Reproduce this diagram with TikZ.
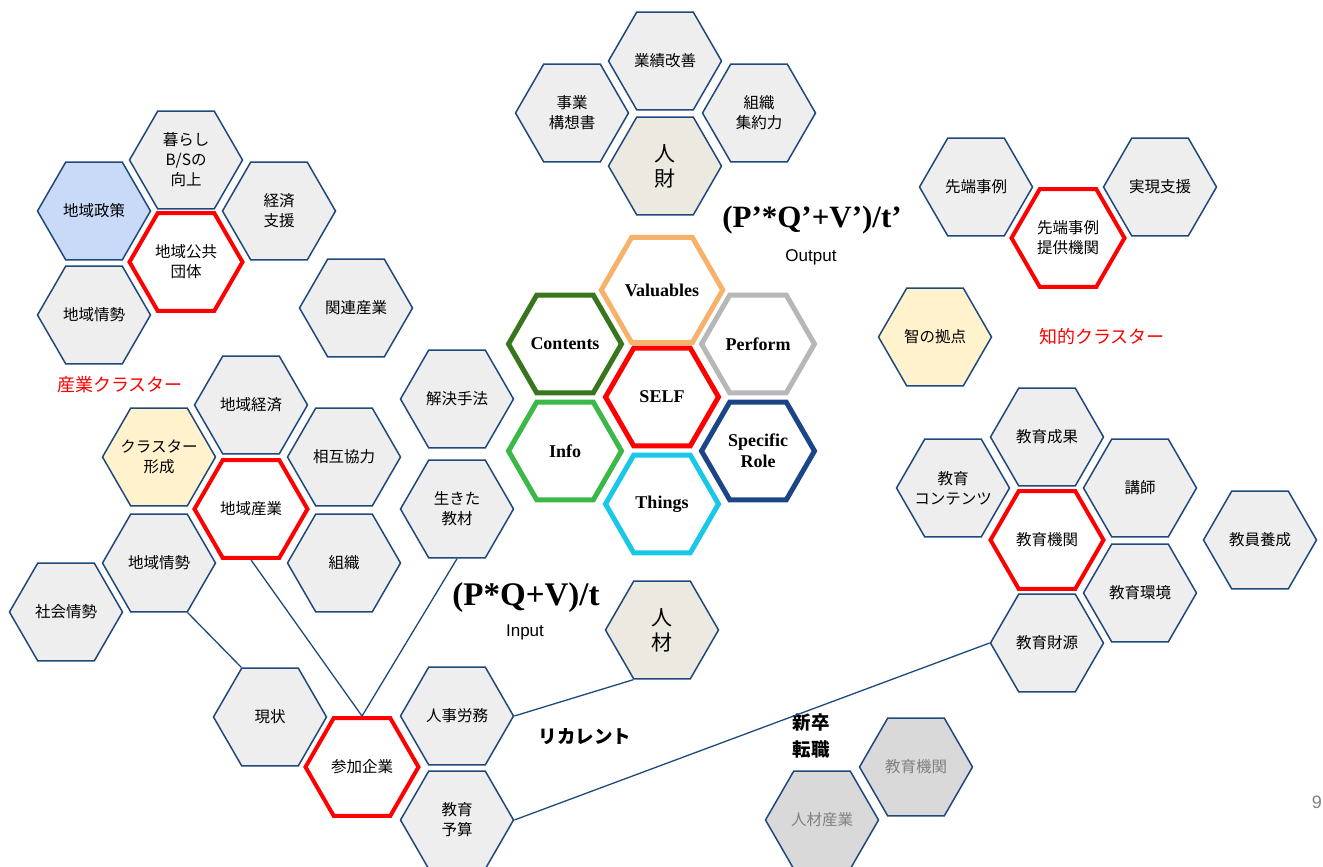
\documentclass[tikz,border=0pt]{standalone}
\usepackage{fontspec}
\setmainfont{Liberation Serif}
\newfontfamily\jpfont{Noto Sans CJK JP}
\newfontfamily\arialfont{Liberation Sans}
\usepackage{tikz}
\usetikzlibrary{shapes.geometric,positioning}

\definecolor{hexline}{RGB}{31,73,125}
\definecolor{hexfill}{RGB}{238,238,238}
\definecolor{policyblue}{RGB}{201,218,248}
\definecolor{paleyellow}{RGB}{255,242,204}
\definecolor{jinfill}{RGB}{236,234,224}
\definecolor{dimfill}{RGB}{217,217,217}
\definecolor{valorange}{RGB}{246,178,107}
\definecolor{contgreen}{RGB}{56,118,29}
\definecolor{perfgray}{RGB}{183,183,183}
\definecolor{infogreen}{RGB}{60,184,72}
\definecolor{roleblue}{RGB}{28,69,135}
\definecolor{thingcyan}{RGB}{24,200,230}

% wide label lines that must not grow the hexagon
\newcommand{\hexrow}[1]{\makebox[0pt]{#1}}

\tikzset{
  hex/.style={regular polygon, regular polygon sides=6,
    minimum size=113pt, inner sep=0pt, draw=hexline, line width=1.5pt,
    fill=hexfill, align=center, font=\jpfont\fontsize{15.5}{20}\selectfont},
  redhex/.style={hex, fill=white, draw=red, line width=4pt},
  dimhex/.style={hex, fill=dimfill, text=gray},
  jinhex/.style={hex, fill=jinfill, font=\jpfont\fontsize{21}{25}\selectfont},
  keyhex/.style={hex, fill=white, line width=5pt, draw=#1,
    font=\bfseries\fontsize{18}{21}\selectfont},
  cluster/.style={text=red, font=\jpfont\fontsize{18}{22}\selectfont},
  boldjp/.style={align=left, font=\jpfont\bfseries\fontsize{18.5}{27}\selectfont},
  conn/.style={draw=hexline, line width=1.3pt}
}

\begin{document}
\begin{tikzpicture}[x=1pt,y=-1pt]
\useasboundingbox (0,0) rectangle (1323,867);

% 地域公共団体
\node[hex] (kurashi) at (186,160) {暮らし\\B/Sの\\向上};
\node[hex, fill=policyblue] (seisaku) at (94,211) {地域政策};
\node[redhex] (koukyou) at (186,262) {地域公共\\団体};
\node[hex] (shien) at (279,211) {経済\\支援};
\node[hex] (jousei) at (94,315) {地域情勢};
\node[hex] (kanren) at (356,308) {関連産業};

% 産業クラスター
\node[cluster] (sangyoucl) at (120,385) {産業クラスター};
\node[hex] (keizai) at (251,405) {地域経済};
\node[hex, fill=paleyellow] (keisei) at (159,457) {\hexrow{クラスター}\\\hexrow{形成}};
\node[redhex] (chiiki) at (251,509) {地域産業};
\node[hex] (kyouryoku) at (344,457) {相互協力};
\node[hex] (jousei2) at (159,563) {地域情勢};
\node[hex] (soshiki) at (344,563) {組織};
\node[hex] (shakai) at (66,612) {社会情勢};
\node[hex] (kaiketsu) at (457,399) {解決手法};
\node[hex] (kyouzai) at (457,509) {生きた\\教材};

% 参加企業
\node[hex] (genjou) at (270,717) {現状};
\node[redhex] (sanka) at (362,767) {参加企業};
\node[hex] (roumu) at (457,716) {人事労務};
\node[hex] (yosan) at (457,820) {教育\\予算};
\node[jinhex] (jinzai) at (662,630) {人\\材};

% 業績
\node[hex] (gyouseki) at (665,61) {業績改善};
\node[hex] (jigyou) at (572,113) {事業\\構想書};
\node[hex] (shuyaku) at (759,113) {組織\\集約力};
\node[jinhex] (jinzai2) at (665,166) {人\\財};

% SELF
\node[keyhex=valorange] (valu) at (662,290) {Valuables};
\node[keyhex=contgreen] (cont) at (565,344) {Contents};
\node[keyhex=perfgray] (perf) at (758,344) {Perform};
\node[keyhex=red] (self) at (662,397) {SELF};
\node[keyhex=infogreen] (info) at (565,451) {Info};
\node[keyhex=roleblue] (role) at (758,451) {Specific\\Role};
\node[keyhex=thingcyan] (thing) at (662,504) {Things};

% formulas
\node[font=\bfseries\fontsize{31}{34}\selectfont] (outf) at (812,220) {(P’*Q’+V’)/t’};
\node[font=\arialfont\fontsize{17}{20}\selectfont] (outl) at (811,257) {Output};
\node[font=\bfseries\fontsize{33}{36}\selectfont] (inf) at (526,598) {(P*Q+V)/t};
\node[font=\arialfont\fontsize{17}{20}\selectfont] (inl) at (525,632) {Input};

% 知的クラスター
\node[hex] (sentan) at (976,187) {先端事例};
\node[redhex] (teikyou) at (1068,238) {先端事例\\提供機関};
\node[hex] (jitsugen) at (1160,187) {実現支援};
\node[hex, fill=paleyellow] (chi) at (935,337) {智の拠点};
\node[cluster] (chitekicl) at (1102,337) {知的クラスター};

% 教育機関
\node[hex] (seika) at (1047,437) {教育成果};
\node[hex] (kontentsu) at (953,488) {\hexrow{教育}\\\hexrow{コンテンツ}};
\node[hex] (koushi) at (1140,488) {講師};
\node[redhex] (kikan) at (1047,540) {教育機関};
\node[hex] (yousei) at (1260,540) {教員養成};
\node[hex] (kankyou) at (1140,593) {教育環境};
\node[hex] (zaigen) at (1047,643) {教育財源};

% bottom
\node[boldjp] (recurrent) at (585,737) {リカレント};
\node[boldjp] (shinsotsu) at (811,736) {新卒\\転職};
\node[dimhex] (kikan2) at (916,767) {教育機関};
\node[dimhex] (jinsangyou) at (822,820) {人材産業};
\node[anchor=east, text=gray, font=\arialfont\fontsize{18}{20}\selectfont, inner sep=1pt] (pageno) at (1323,802) {9};

% connectors
\draw[conn] (jousei2.-60) -- (genjou.120);
\draw[conn] (chiiki.south) -- (sanka.north);
\draw[conn] (kyouzai.south) -- (sanka.north);
\draw[conn] (roumu.0) -- (jinzai.-120);
\draw[conn] (yosan.0) -- (zaigen.180);
\end{tikzpicture}
\end{document}
